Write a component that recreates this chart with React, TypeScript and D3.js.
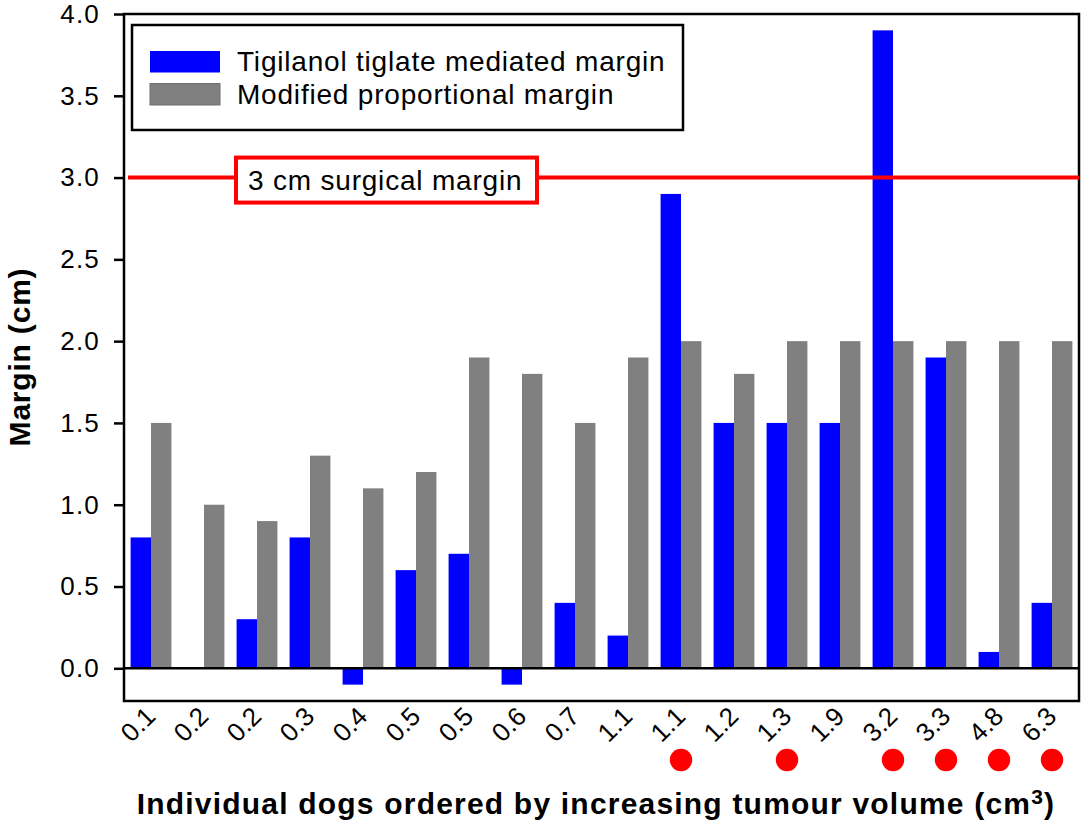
import React, { useEffect, useRef } from 'react';
import * as d3 from 'd3';

// tumour volume (cm3) per dog, in plotted order
const volumes = ['0.1', '0.2', '0.2', '0.3', '0.4', '0.5', '0.5', '0.6', '0.7', '1.1', '1.1', '1.2', '1.3', '1.9', '3.2', '3.3', '4.8', '6.3'];
// Tigilanol tiglate mediated margin (cm)
const ttMargin = [0.8, 0, 0.3, 0.8, -0.1, 0.6, 0.7, -0.1, 0.4, 0.2, 2.9, 1.5, 1.5, 1.5, 3.9, 1.9, 0.1, 0.4];
// Modified proportional margin (cm)
const propMargin = [1.5, 1.0, 0.9, 1.3, 1.1, 1.2, 1.9, 1.8, 1.5, 1.9, 2.0, 1.8, 2.0, 2.0, 2.0, 2.0, 2.0, 2.0];
// dogs marked with a red dot under the axis
const marked = [false, false, false, false, false, false, false, false, false, false, true, false, true, false, true, true, true, true];
const yTicks = [0, 0.5, 1.0, 1.5, 2.0, 2.5, 3.0, 3.5, 4.0];
const surgicalMargin = 3.0;
const legendItems = ['Tigilanol tiglate mediated margin', 'Modified proportional margin'];

const FONT = '"Liberation Sans", Arial, Helvetica, sans-serif';
const BLUE = '#0000ff';
const GREY = '#808080';
const RED = '#ff0000';

const App = () => {
    const svgRef = useRef<SVGSVGElement>(null);

    useEffect(() => {
        if (!svgRef.current) return;
        const width = 1084;
        const height = 825;
        const plot = { left: 124, right: 1079, top: 14, bottom: 701 };

        const svg = d3.select(svgRef.current)
            .attr('width', width)
            .attr('height', height)
            .attr('viewBox', `0 0 ${width} ${height}`);
        svg.selectAll('*').remove();

        svg.append('rect').attr('width', width).attr('height', height).attr('fill', '#ffffff');

        const x = d3.scaleBand<string>()
            .domain(volumes.map((_, i) => String(i)))
            .range([124.5, 1078.5])
            .padding(0);
        const y = d3.scaleLinear().domain([-0.2, 4.0]).range([plot.bottom, plot.top]);
        const bw = x.bandwidth() * 0.385;
        const cx = (i: number) => x(String(i))! + x.bandwidth() / 2;

        // bars
        svg.append('g').selectAll('rect')
            .data(ttMargin)
            .enter().append('rect')
            .attr('x', (_, i) => cx(i) - bw)
            .attr('width', bw)
            .attr('y', d => y(Math.max(0, d)))
            .attr('height', d => Math.abs(y(d) - y(0)))
            .attr('fill', BLUE);
        svg.append('g').selectAll('rect')
            .data(propMargin)
            .enter().append('rect')
            .attr('x', (_, i) => cx(i))
            .attr('width', bw)
            .attr('y', d => y(Math.max(0, d)))
            .attr('height', d => Math.abs(y(d) - y(0)))
            .attr('fill', GREY);

        // zero line
        svg.append('line')
            .attr('x1', plot.left).attr('x2', plot.right)
            .attr('y1', y(0)).attr('y2', y(0))
            .attr('stroke', '#000').attr('stroke-width', 2.5);

        // frame
        svg.append('rect')
            .attr('x', plot.left).attr('y', plot.top)
            .attr('width', plot.right - plot.left).attr('height', plot.bottom - plot.top)
            .attr('fill', 'none').attr('stroke', '#000').attr('stroke-width', 2.5);

        // y axis
        const yAxis = svg.append('g')
            .attr('transform', `translate(${plot.left},0)`)
            .call(d3.axisLeft(y).tickValues(yTicks).tickSize(10).tickSizeOuter(0).tickPadding(14).tickFormat(d3.format('.1f')));
        yAxis.select('.domain').remove();
        yAxis.selectAll('line').attr('stroke', '#000').attr('stroke-width', 2.5);
        yAxis.selectAll('text')
            .attr('font-family', FONT).attr('font-size', 26).attr('fill', '#000')
            .attr('letter-spacing', 1.2);

        // x tick labels
        svg.append('g').selectAll('text')
            .data(volumes)
            .enter().append('text')
            .attr('transform', (_, i) => `translate(${cx(i) + 6},718) rotate(-45)`)
            .attr('text-anchor', 'end')
            .attr('font-family', FONT).attr('font-size', 26)
            .attr('fill', '#000')
            .text(d => d);

        // red dots
        svg.append('g').selectAll('circle')
            .data(marked.map((m, i) => ({ m, i })).filter(d => d.m))
            .enter().append('circle')
            .attr('cx', d => cx(d.i))
            .attr('cy', 760)
            .attr('r', 11.2)
            .attr('fill', RED);

        // 3 cm surgical margin line + label
        svg.append('line')
            .attr('x1', plot.left + 4).attr('x2', plot.right)
            .attr('y1', y(surgicalMargin)).attr('y2', y(surgicalMargin))
            .attr('stroke', RED).attr('stroke-width', 4);
        svg.append('rect')
            .attr('x', 236).attr('y', y(surgicalMargin) - 20)
            .attr('width', 301).attr('height', 45)
            .attr('fill', '#ffffff').attr('stroke', RED).attr('stroke-width', 4);
        svg.append('text')
            .attr('x', 248).attr('y', y(surgicalMargin) + 12)
            .attr('font-family', FONT).attr('font-size', 28).attr('letter-spacing', 0.8)
            .attr('fill', '#000')
            .text('3 cm surgical margin');

        // legend
        svg.append('rect')
            .attr('x', 132).attr('y', 25).attr('width', 551).attr('height', 105)
            .attr('fill', '#ffffff').attr('stroke', '#000').attr('stroke-width', 2.5);
        const legendColors = [BLUE, GREY];
        legendItems.forEach((label, i) => {
            svg.append('rect')
                .attr('x', 150).attr('y', 51 + i * 32.5)
                .attr('width', 70).attr('height', 21.5)
                .attr('fill', legendColors[i])
                .attr('stroke', i === 1 ? '#6e6e6e' : 'none').attr('stroke-width', 1);
            svg.append('text')
                .attr('x', 237).attr('y', 71 + i * 32.5)
                .attr('font-family', FONT).attr('font-size', 28).attr('letter-spacing', 0.8)
                .attr('fill', '#000')
                .text(label);
        });

        // axis titles
        svg.append('text')
            .attr('transform', 'translate(30,357) rotate(-90)')
            .attr('text-anchor', 'middle')
            .attr('font-family', FONT).attr('font-size', 30).attr('font-weight', 'bold')
            .attr('letter-spacing', 0.8)
            .attr('fill', '#000')
            .text('Margin (cm)');

        const xTitle = svg.append('text')
            .attr('x', 596).attr('y', 814)
            .attr('text-anchor', 'middle')
            .attr('font-family', FONT).attr('font-size', 30).attr('font-weight', 'bold')
            .attr('letter-spacing', 1.2)
            .attr('fill', '#000');
        xTitle.append('tspan').text('Individual dogs ordered by increasing tumour volume (cm');
        xTitle.append('tspan').attr('font-size', 21).attr('dy', -10).text('3');
        xTitle.append('tspan').attr('dy', 10).text(')');
    }, []);

    return <svg ref={svgRef} style={{ position: 'absolute', left: 0, top: 0, display: 'block' }} />;
};

export default App;
